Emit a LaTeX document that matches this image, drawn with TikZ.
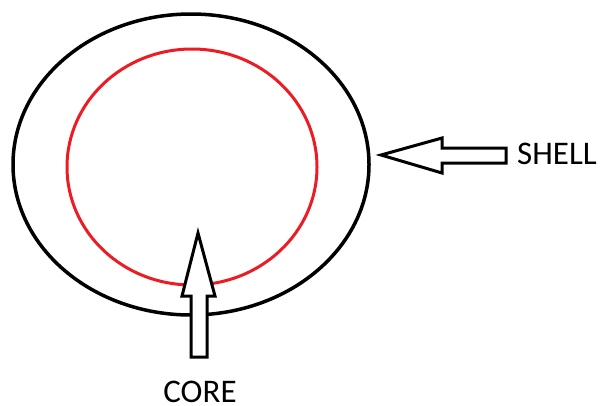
\documentclass[tikz,border=0pt]{standalone}
\usepackage{fontspec}
\setmainfont{Carlito}
\begin{document}
\begin{tikzpicture}[x=1pt,y=-1pt,
  outline/.style={draw=black,line width=3.5pt},
  redline/.style={draw={rgb,255:red,237;green,28;blue,36},line width=3pt},
  hollow/.style={draw=black,line width=3pt,line join=miter,fill=white},
  lbl/.style={font=\fontsize{33}{33}\selectfont,inner sep=0pt}]
\useasboundingbox (0,0) rectangle (601,405);
\draw[outline] (191,164.5) ellipse [x radius=178, y radius=150.5];
\draw[redline] (192,167) ellipse [x radius=125, y radius=118];
% shell arrow
\draw[hollow] (381,155) -- (442,138) -- (442,148) -- (506,148) -- (506,163) -- (442,163) -- (442,173) -- cycle;
% core arrow
\draw[hollow] (198,233) -- (215,296) -- (207,296) -- (207,357) -- (191,357) -- (191,296) -- (182,296) -- cycle;
\node[lbl,anchor=base west] (shell) at (517,164.5) {SHELL};
\node[lbl,anchor=base] (core) at (200,402) {CORE};
\end{tikzpicture}
\end{document}
